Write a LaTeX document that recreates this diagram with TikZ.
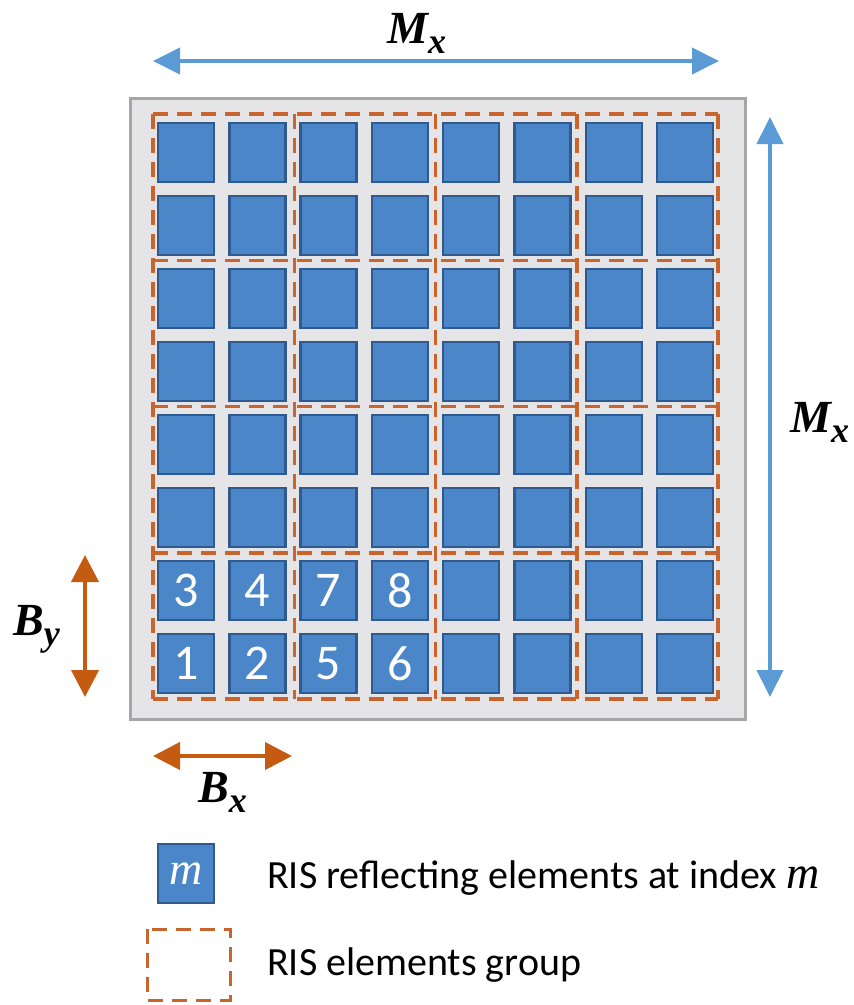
\documentclass[tikz,border=0pt]{standalone}
\usepackage{fontspec}
\setmainfont{Carlito}
\newfontfamily\tnr{Liberation Serif}
\usetikzlibrary{arrows.meta}
\definecolor{elfill}{RGB}{74,134,200}
\definecolor{eldraw}{RGB}{47,90,143}
\definecolor{panelfill}{RGB}{229,229,231}
\definecolor{paneldraw}{RGB}{166,166,166}
\definecolor{arrblue}{RGB}{91,155,213}
\definecolor{arrorange}{RGB}{197,90,17}
\definecolor{grpdash}{RGB}{200,100,45}
\tikzset{
  elem/.style={draw=eldraw, fill=elfill, line width=2.5pt, minimum width=56pt, minimum height=59pt, inner sep=0pt, text=white, font=\fontsize{50}{50}\selectfont},
  panel/.style={draw=paneldraw, fill=panelfill, line width=3pt},
  grp/.style={draw=grpdash, line width=3.5pt, dash pattern=on 15pt off 9pt},
  bluearrow/.style={draw=arrblue, line width=4pt, {Triangle[length=27pt,width=26pt]}-{Triangle[length=27pt,width=26pt]}},
  orangearrow/.style={draw=arrorange, line width=4pt, {Triangle[length=27pt,width=27pt]}-{Triangle[length=27pt,width=27pt]}},
  lbl/.style={anchor=base west, inner sep=0pt},
  legtext/.style={anchor=base west, inner sep=0pt, font=\fontsize{40}{40}\selectfont}
}
\newcommand{\bigsym}[2]{{\tnr\bfseries\itshape\fontsize{46}{46}\selectfont #1\raisebox{-10pt}{\fontsize{36}{36}\selectfont #2}}}
\begin{document}
\begin{tikzpicture}[x=1pt,y=-1pt]
\useasboundingbox (0,0) rectangle (854,1005);
% panel
\node[panel, minimum width=615pt, minimum height=621pt, inner sep=0pt, anchor=north west] (panel) at (129,97) {};
% elements
\foreach \r in {0,...,7}{
  \foreach \c in {0,...,7}{
    \pgfmathsetmacro{\xx}{186+71.3*\c}
    \pgfmathsetmacro{\yy}{152.5+73*\r}
    \node[elem] (s-\r-\c) at (\xx,\yy) {};
  }
}
\node[elem] at (s-6-0) {3};
\node[elem] at (s-6-1) {4};
\node[elem] at (s-6-2) {7};
\node[elem] at (s-6-3) {8};
\node[elem] at (s-7-0) {1};
\node[elem] at (s-7-1) {2};
\node[elem] at (s-7-2) {5};
\node[elem] at (s-7-3) {6};
% groups: dashed grid lines, each drawn once
\foreach \i in {0,...,4}{
  \pgfmathsetmacro{\gx}{153+141.25*\i}
  \pgfmathsetmacro{\gy}{114+146.25*\i}
  \draw[grp] (\gx,114) -- (\gx,699);
  \draw[grp] (153,\gy) -- (718,\gy);
}
% arrows
\coordinate (mxl) at (153,61);
\coordinate (mxr) at (719,61);
\coordinate (myt) at (770,117);
\coordinate (myb) at (770,697);
\coordinate (byt) at (85,555);
\coordinate (byb) at (85,697);
\coordinate (bxl) at (153,756);
\coordinate (bxr) at (292,756);
\draw[bluearrow] (mxl) -- (mxr);
\draw[bluearrow] (myt) -- (myb);
\draw[orangearrow] (byt) -- (byb);
\draw[orangearrow] (bxl) -- (bxr);
% labels
\node[lbl] (lmxtop) at (387,43) {\bigsym{M}{x}};
\node[lbl] (lmxright) at (790,432) {\bigsym{M}{x}};
\node[lbl] (lby) at (13,635) {\bigsym{B}{y}};
\node[lbl] (lbx) at (198,802) {\bigsym{B}{x}};
% legend
\node[elem, minimum width=56pt, minimum height=59pt, font=\tnr\itshape\fontsize{46}{46}\selectfont] (legel) at (186,873.5) {m};
\draw[grp, line width=3pt] (147,929) rectangle (230,1000);
\node[legtext] (legt1) at (267,888) {RIS reflecting elements at index {\tnr\itshape\fontsize{46}{46}\selectfont m}};
\node[legtext] (legt2) at (267,975) {RIS elements group};
\end{tikzpicture}
\end{document}
